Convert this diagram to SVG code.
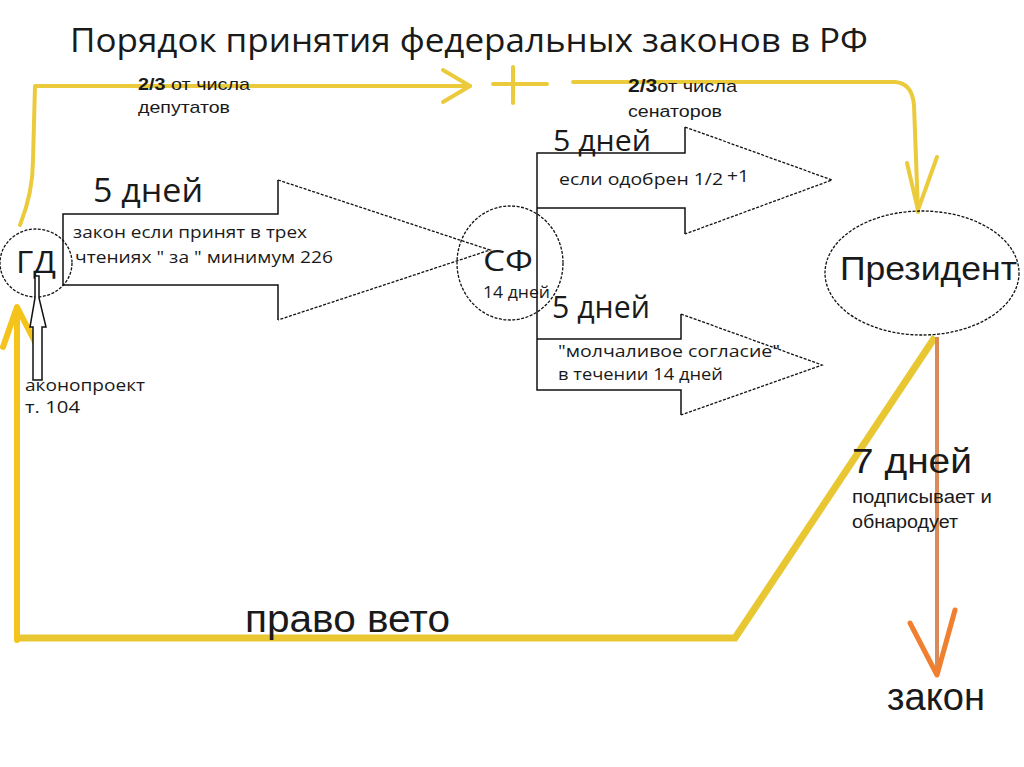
<svg xmlns="http://www.w3.org/2000/svg" width="1024" height="767" viewBox="0 0 1024 767">
<style>
.bg{fill:#ffffff}
.cal{font-family:"Open Sans","Liberation Sans",sans-serif;fill:#1a1a1a}
.ar{font-family:"Liberation Sans",Arial,sans-serif;fill:#1a1a1a}
.solid{fill:none;stroke:#111;stroke-width:1.5}
.dash{fill:none;stroke:#111;stroke-width:1.3;stroke-dasharray:3 1.5}
.yl{fill:none;stroke:#ebcb3c;stroke-width:4;stroke-linecap:round;stroke-linejoin:round}
.yb{fill:none;stroke:#e8c733;stroke-width:7;stroke-linejoin:miter}
.yu{fill:none;stroke:#f4c41c;stroke-width:6;stroke-linecap:round;stroke-linejoin:round}
.or{fill:none;stroke:#d98a57;stroke-width:4}
.orh{fill:none;stroke:#f07f2f;stroke-width:5;stroke-linecap:round;stroke-linejoin:round}
</style>
<rect class="bg" x="0" y="0" width="1024" height="767"/>
<text class="cal" x="70" y="52" font-size="33" textLength="798" lengthAdjust="spacingAndGlyphs">Порядок принятия федеральных законов в РФ</text>

<g id="connectors">
  <path class="yl" d="M 20 225 C 28 205 33 185 33 160 L 35 86 L 470 86"/>
  <path class="yl" d="M 443 70 L 470 86 L 443 102"/>
  <path class="yl" d="M 493 84 H 547 M 513 67 V 103"/>
  <path class="yl" d="M 573 82 L 895 82 Q 912 83 914 105 L 918 212"/>
  <path class="yl" d="M 907 163 L 918 210 L 937 157"/>
  <path class="yb" d="M 17 638 L 735 638 L 935 337"/>
  <path class="yu" d="M 17 640 L 17 309"/>
  <path class="yu" d="M 3 347 L 17 307 L 35 342"/>
  <path class="or" d="M 937 337 L 937 675"/>
  <path class="orh" d="M 910 623 L 937 675 L 955 610"/>
</g>

<g id="arrow-gd-sf">
  <path class="solid" d="M 278 180 V 214 H 63 V 285 H 278 V 320"/>
  <path class="dash" d="M 278 180 L 490 250 L 278 320"/>
  <text class="cal" x="93" y="202" font-size="32" textLength="110" lengthAdjust="spacingAndGlyphs">5 дней</text>
  <text class="cal" x="73" y="238" font-size="17" textLength="234" lengthAdjust="spacingAndGlyphs">закон если принят в трех</text>
  <text class="cal" x="75" y="263" font-size="17" textLength="258" lengthAdjust="spacingAndGlyphs">чтениях " за " минимум 226</text>
</g>

<g id="arrow-sf-up">
  <path class="solid" d="M 685 127 V 153 H 537 V 390 H 681 V 415 M 537 208 H 685 V 234 M 537 339 H 681 V 314"/>
  <path class="dash" d="M 685 127 L 832 180 L 685 234"/>
  <text class="cal" x="553" y="151" font-size="30" textLength="98" lengthAdjust="spacingAndGlyphs">5 дней</text>
  <text class="cal" x="559" y="185" font-size="16" textLength="164" lengthAdjust="spacingAndGlyphs">если одобрен 1/2</text>
  <text class="cal" x="727" y="182" font-size="16" textLength="22" lengthAdjust="spacingAndGlyphs">+1</text>
</g>

<g id="arrow-sf-down">
  <path class="dash" d="M 681 314 L 822 365 L 681 415"/>
  <text class="cal" x="552" y="318" font-size="31" textLength="98" lengthAdjust="spacingAndGlyphs">5 дней</text>
  <text class="cal" x="558" y="357" font-size="17" textLength="222" lengthAdjust="spacingAndGlyphs">"молчаливое согласие"</text>
  <text class="cal" x="558" y="380" font-size="17" textLength="165" lengthAdjust="spacingAndGlyphs">в течении 14 дней</text>
</g>

<g id="gd">
  <ellipse class="dash" cx="36" cy="263" rx="36" ry="34"/>
  <text class="cal" x="16" y="273" font-size="31" textLength="40" lengthAdjust="spacingAndGlyphs">ГД</text>
</g>

<g id="bill">
  <polygon points="33,380 33,327 30,327 35,298 35,276 39,276 39,298 46,327 42,327 42,380" fill="#ffffff" stroke="#111" stroke-width="1.5"/>
  <text class="cal" x="25" y="391" font-size="17" textLength="120" lengthAdjust="spacingAndGlyphs">аконопроект</text>
  <text class="cal" x="25" y="413" font-size="17" textLength="55" lengthAdjust="spacingAndGlyphs">т. 104</text>
</g>

<g id="sf">
  <ellipse class="dash" cx="510" cy="263" rx="53" ry="57"/>
  <text class="cal" x="483" y="271" font-size="30" textLength="50" lengthAdjust="spacingAndGlyphs">СФ</text>
  <text class="cal" x="483" y="298" font-size="16" textLength="67" lengthAdjust="spacingAndGlyphs">14 дней</text>
</g>

<g id="labels-vote">
  <text class="ar" x="138" y="90" font-size="17" textLength="112" lengthAdjust="spacingAndGlyphs"><tspan font-weight="bold">2/3</tspan> от числа</text>
  <text class="ar" x="138" y="113" font-size="17" textLength="92" lengthAdjust="spacingAndGlyphs">депутатов</text>
  <text class="ar" x="628" y="92" font-size="17" textLength="109" lengthAdjust="spacingAndGlyphs"><tspan font-weight="bold" font-size="18">2/3</tspan>от числа</text>
  <text class="ar" x="628" y="117" font-size="16" textLength="94" lengthAdjust="spacingAndGlyphs">сенаторов</text>
</g>

<g id="president">
  <ellipse class="dash" cx="922" cy="273" rx="97" ry="62"/>
  <text class="ar" x="840" y="280" font-size="34" textLength="177" lengthAdjust="spacingAndGlyphs">Президент</text>
</g>

<g id="sign">
  <text class="ar" x="852" y="473" font-size="35" textLength="120" lengthAdjust="spacingAndGlyphs">7 дней</text>
  <text class="ar" x="852" y="503" font-size="18" textLength="140" lengthAdjust="spacingAndGlyphs">подписывает и</text>
  <text class="ar" x="852" y="528" font-size="18" textLength="106" lengthAdjust="spacingAndGlyphs">обнародует</text>
</g>

<g id="law">
  <text class="ar" x="887" y="710" font-size="38" textLength="98" lengthAdjust="spacingAndGlyphs">закон</text>
</g>

<g id="veto">
  <text class="ar" x="245" y="632" font-size="38" textLength="205" lengthAdjust="spacingAndGlyphs">право вето</text>
</g>
</svg>
